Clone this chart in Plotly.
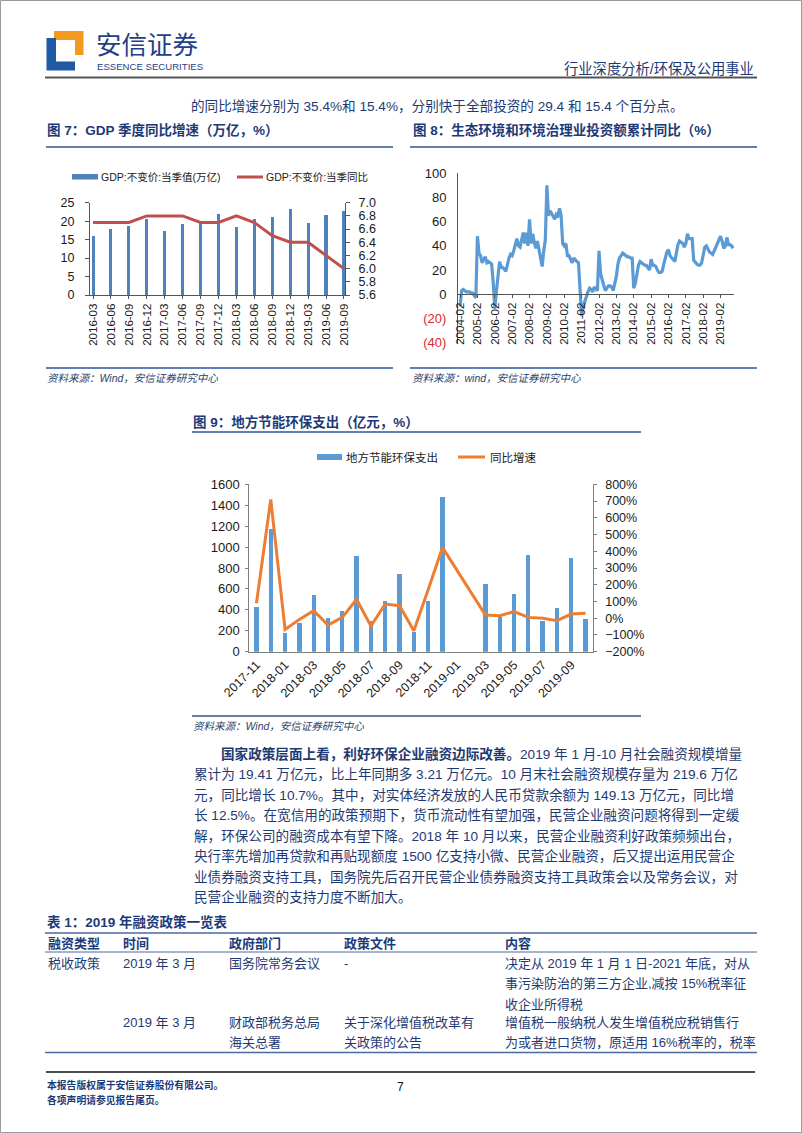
import plotly.graph_objects as go

W, H = 802, 1133
def X(px): return px / W
def Y(py): return 1 - py / H

# ---------------- data ----------------
# Figure 7: GDP quarterly
gdp_quarters = ["2016-03", "2016-06", "2016-09", "2016-12", "2017-03", "2017-06", "2017-09",
                "2017-12", "2018-03", "2018-06", "2018-09", "2018-12", "2019-03", "2019-06", "2019-09"]
gdp_value = [16.0, 17.9, 18.8, 20.5, 17.3, 19.2, 19.4, 21.9, 18.3, 20.5, 21.2, 23.3, 19.4, 21.7, 22.7]
gdp_yoy = [6.7, 6.7, 6.7, 6.8, 6.8, 6.8, 6.7, 6.7, 6.8, 6.7, 6.5, 6.4, 6.4, 6.2, 6.0]

# Figure 8: eco-environment investment, cumulative YoY (%), monthly Feb-Dec
inv_years = list(range(2004, 2020))
inv_2004 = [-10, 3, 4, 3, 2, 2, 2, 1, 1, -1, -3]
inv_2005 = [48, 34, 32, 26, 29, 31, 26, 27, 26, 25, 10]
inv_2006 = [-12, 2, 12, 27, 23, 22, 21, 19, 26, 30, 33]
inv_2007 = [32, 36, 40, 46, 40, 39, 45, 51, 42, 51, 40]
inv_2008 = [62, 42, 50, 43, 38, 44, 37, 33, 23, 36, 45]
inv_2009 = [90, 65, 69, 67, 65, 62, 66, 65, 71, 65, 42]
inv_2010 = [40, 42, 32, 32, 28, 26, 30, 28, 27, 26, 1]
inv_2011 = [-18, -10, -5, -2, 2, 5, 4, 2, 6, 4, 3]
inv_2012 = [36, 17, 12, 8, 3, 5, 7, 7, 6, 3, 8]
inv_2013 = [15, 25, 30, 32, 34, 33, 32, 31, 31, 30, 30]
inv_2014 = [5, 9, 18, 24, 27, 26, 25, 24, 24, 22, 20]
inv_2015 = [29, 24, 24, 23, 20, 18, 18, 19, 25, 30, 35]
inv_2016 = [37, 32, 30, 29, 27, 35, 41, 44, 43, 42, 39]
inv_2017 = [42, 50, 46, 46, 46, 28, 26, 25, 24, 24, 26]
inv_2018 = [32, 39, 40, 37, 35, 34, 33, 36, 39, 42, 44]
inv_2019 = [48, 44, 38, 40, 47, 41, 41, 40, 38]
inv_tick_labels = [f"{y}-02" for y in inv_years]

# Figure 9: local energy-saving & environmental expenditure
exp_months = ["2017-11", "2017-12", "2018-01", "2018-02", "2018-03", "2018-04", "2018-05", "2018-06",
              "2018-07", "2018-08", "2018-09", "2018-10", "2018-11", "2018-12", "2019-01", "2019-02",
              "2019-03", "2019-04", "2019-05", "2019-06", "2019-07", "2019-08", "2019-09", "2019-10"]
exp_value = [430, 1170, 175, 277, 542, 319, 389, 915, 296, 484, 743, 190, 481, 1476, None, None,
             647, 335, 551, 927, 290, 417, 899, 312]
exp_yoy = [89, 710, -67, -7, 45, -41, 5, 113, -47, 85, 75, -75, 170, 423, None, None,
           19, 15, 39, 5, 0, -15, 25, 29]

# ---------------- styles ----------------
FONT = "Liberation Sans, Arial, Noto Sans CJK SC"
NAVY = "#1d3a78"
BODY = "#1f3a72"
TICK = "#1a1a1a"
AX = "#555555"

ann = []
shapes = []

def txt(x, y, s, size=13, color=BODY, bold=False, italic=False, xanchor="left", family=FONT):
    if bold:
        s = f"<b>{s}</b>"
    if italic:
        s = f"<i>{s}</i>"
    ann.append(dict(x=X(x), y=Y(y), xref="paper", yref="paper", text=s, showarrow=False,
                    xanchor=xanchor, yanchor="middle", borderpad=0,
                    font=dict(size=size, color=color, family=family)))

def hline(x0, x1, y, color, width=1):
    shapes.append(dict(type="line", xref="paper", yref="paper", x0=X(x0), x1=X(x1), y0=Y(y), y1=Y(y),
                       line=dict(color=color, width=width)))

def rect(x0, y0, x1, y1, color):
    shapes.append(dict(type="rect", xref="paper", yref="paper", x0=X(x0), x1=X(x1), y0=Y(y1), y1=Y(y0),
                       line=dict(width=0), fillcolor=color))

def poly(pts, color):
    p = "M " + " L ".join(f"{X(a):.5f},{Y(b):.5f}" for a, b in pts) + " Z"
    shapes.append(dict(type="path", xref="paper", yref="paper", path=p, fillcolor=color, line=dict(width=0)))

# page border
shapes.append(dict(type="rect", xref="paper", yref="paper", x0=X(0.5), x1=X(801.5), y0=Y(1132.5), y1=Y(0.5),
                   line=dict(color="#9a9a9a", width=1), fillcolor="rgba(0,0,0,0)"))

# ---------------- header ----------------
poly([(54, 31), (83.5, 31), (83.5, 55), (75, 55), (75, 40), (54, 40)], "#F29A1F")
poly([(46.5, 38), (56, 38), (56, 61.5), (75, 61.5), (75, 70.5), (46.5, 70.5)], "#1F5AA6")
txt(95, 43, "安信证券", size=25.5, color="#1F3F86", family="Noto Sans CJK SC")
txt(96, 67, "ESSENCE SECURITIES", size=9.6, color="#1F3F86", family="Liberation Sans Narrow, Liberation Sans")
txt(755, 69, "行业深度分析/环保及公用事业", size=14.3, color=NAVY, xanchor="right")
hline(45, 757, 77.5, "#555555", 2)

txt(190, 106, "的同比增速分别为 35.4%和 15.4%，分别快于全部投资的 29.4 和 15.4 个百分点。", size=13.6, color=BODY)

# ---------------- figure titles ----------------
txt(46, 129.5, "图 7：GDP 季度同比增速（万亿，%）", size=13.5, color=NAVY, bold=True)
txt(412, 129.5, "图 8：生态环境和环境治理业投资额累计同比（%）", size=13.5, color=NAVY, bold=True)
hline(46, 393, 147, "#2F5597", 1.5)
hline(410, 757, 147, "#2F5597", 1.5)

# legend fig 7
rect(72, 174, 98, 179.5, "#4F81BD")
txt(100, 177, "GDP:不变价:当季值(万亿)", size=10.5, color=TICK)
hline(237, 263, 177, "#C0504D", 3)
txt(265, 177, "GDP:不变价:当季同比", size=10.5, color=TICK)

# sources fig 7/8
hline(46, 393, 368, "#2F5597", 1.5)
hline(410, 757, 368, "#2F5597", 1.5)
txt(46, 378, "资料来源：Wind，安信证券研究中心", size=10.5, color="#2b3f6b", italic=True)
txt(411, 378, "资料来源：wind，安信证券研究中心", size=10.5, color="#2b3f6b", italic=True)

# ---------------- figure 9 title & legend ----------------
txt(192, 421.5, "图 9：地方节能环保支出（亿元，%）", size=13.5, color=NAVY, bold=True)
hline(192, 641, 432, "#2F5597", 1.5)
rect(317, 454, 342, 460, "#5B9BD5")
txt(345, 457, "地方节能环保支出", size=11.5, color=TICK)
hline(458, 485, 457, "#ED7D31", 3)
txt(489, 457, "同比增速", size=11.5, color=TICK)
hline(192, 641, 716, "#2F5597", 1.5)
txt(192, 726, "资料来源：Wind，安信证券研究中心", size=10.5, color="#2b3f6b", italic=True)

# ---------------- body paragraph ----------------
para = [
    "<b>国家政策层面上看，利好环保企业融资边际改善。</b>2019 年 1 月-10 月社会融资规模增量",
    "累计为 19.41 万亿元，比上年同期多 3.21 万亿元。10 月末社会融资规模存量为 219.6 万亿",
    "元，同比增长 10.7%。其中，对实体经济发放的人民币贷款余额为 149.13 万亿元，同比增",
    "长 12.5%。在宽信用的政策预期下，货币流动性有望加强，民营企业融资问题将得到一定缓",
    "解，环保公司的融资成本有望下降。2018 年 10 月以来，民营企业融资利好政策频频出台，",
    "央行率先增加再贷款和再贴现额度 1500 亿支持小微、民营企业融资，后又提出运用民营企",
    "业债券融资支持工具，国务院先后召开民营企业债券融资支持工具政策会以及常务会议，对",
    "民营企业融资的支持力度不断加大。",
]
for i, line in enumerate(para):
    txt(220 if i == 0 else 193, 753.5 + 20.5 * i, line, size=13.6, color=BODY)

# ---------------- table ----------------
txt(46, 922, "表 1：2019 年融资政策一览表", size=13.5, color=NAVY, bold=True)
hline(45, 757, 933, "#4a6aa0", 1.5)
hline(45, 757, 952, "#4a6aa0", 1)
hline(45, 757, 1052.5, "#4a6aa0", 1.5)
cols = [47, 122, 228, 343, 504]
headers = ["融资类型", "时间", "政府部门", "政策文件", "内容"]
for cx, h in zip(cols, headers):
    txt(cx, 943, h, size=13, color=NAVY, bold=True)
row1 = [("税收政策",), ("2019 年 3 月",), ("国务院常务会议",), ("-",),
        ("决定从 2019 年 1 月 1 日-2021 年底，对从", "事污染防治的第三方企业,减按 15%税率征", "收企业所得税")]
row2 = [(), ("2019 年 3 月",), ("财政部税务总局", "海关总署"), ("关于深化增值税改革有", "关政策的公告"),
        ("增值税一般纳税人发生增值税应税销售行", "为或者进口货物，原适用 16%税率的，税率")]
for cx, cell in zip(cols, row1):
    for j, s in enumerate(cell):
        txt(cx, 963.5 + 20.3 * j, s, size=13, color=BODY)
for cx, cell in zip(cols, row2):
    for j, s in enumerate(cell):
        txt(cx, 1022 + 20.3 * j, s, size=13, color=BODY)

# ---------------- footer ----------------
hline(46, 755, 1072, "#111111", 1.5)
txt(46, 1085, "本报告版权属于安信证券股份有限公司。", size=9.8, color=NAVY, bold=True)
txt(46, 1099.5, "各项声明请参见报告尾页。", size=9.8, color=NAVY, bold=True)
txt(400, 1087, "7", size=12, color="#111111", xanchor="center")

# ---------------- traces ----------------
fig = go.Figure()

q_idx = list(range(len(gdp_quarters)))
fig.add_trace(go.Bar(x=q_idx, y=gdp_value, width=0.17, marker=dict(color="#4F81BD", line=dict(width=0)),
                     xaxis="x", yaxis="y", name="GDP:不变价:当季值(万亿)"))
fig.add_trace(go.Scatter(x=q_idx, y=gdp_yoy, mode="lines", line=dict(color="#C0504D", width=3),
                         xaxis="x", yaxis="y2", name="GDP:不变价:当季同比"))

inv_series = (inv_2004 + inv_2005 + inv_2006 + inv_2007 + inv_2008 + inv_2009 + inv_2010 + inv_2011 +
              inv_2012 + inv_2013 + inv_2014 + inv_2015 + inv_2016 + inv_2017 + inv_2018 + inv_2019)
m_idx = list(range(len(inv_series)))
fig.add_trace(go.Scatter(x=m_idx, y=inv_series, mode="lines", line=dict(color="#5B9BD5", width=3.2),
                         xaxis="x2", yaxis="y3", name="投资额累计同比"))

e_idx = list(range(len(exp_months)))
fig.add_trace(go.Bar(x=e_idx, y=exp_value, width=0.3, marker=dict(color="#5B9BD5", line=dict(width=0)),
                     xaxis="x3", yaxis="y4", name="地方节能环保支出"))
fig.add_trace(go.Scatter(x=e_idx, y=exp_yoy, mode="lines", connectgaps=True,
                         line=dict(color="#ED7D31", width=3), xaxis="x3", yaxis="y5", name="同比增速"))

RED = "#E0262B"
inv_yticks = [-40, -20, 0, 20, 40, 60, 80, 100]
inv_ytext = [f'<span style="color:{RED}">(40)</span>', f'<span style="color:{RED}">(20)</span>',
             "0", "20", "40", "60", "80", "100"]

fig.update_layout(
    width=W, height=H, margin=dict(l=0, r=0, t=0, b=0, pad=0, autoexpand=False),
    paper_bgcolor="white", plot_bgcolor="rgba(0,0,0,0)", showlegend=False,
    bargap=0, font=dict(family=FONT), hovermode=False,
    xaxis=dict(domain=[X(90), X(345)], anchor="y", range=[-0.17, 14.06],
               tickvals=q_idx, ticktext=gdp_quarters, tickangle=-90,
               tickfont=dict(family=FONT, size=11.5, color=TICK),
               showline=True, linecolor=AX, linewidth=1, ticks="outside", ticklen=3, tickcolor=AX,
               showgrid=False, zeroline=False, fixedrange=True),
    yaxis=dict(domain=[Y(295), Y(202.7)], anchor="x", range=[0, 25], tickvals=[0, 5, 10, 15, 20, 25],
               tickfont=dict(family=FONT, size=12.5, color=TICK), showline=True, linecolor=AX,
               ticks="outside", ticklen=4, tickcolor=AX, ticklabelstandoff=8,
               showgrid=False, zeroline=False),
    yaxis2=dict(overlaying="y", side="right", anchor="x", range=[5.6, 7.0],
                tickvals=[5.6, 5.8, 6.0, 6.2, 6.4, 6.6, 6.8, 7.0], tickformat=".1f",
                tickfont=dict(family=FONT, size=12.5, color=TICK), showline=True, linecolor=AX,
                ticks="outside", ticklen=4, tickcolor=AX, ticklabelstandoff=6,
                showgrid=False, zeroline=False),
    xaxis2=dict(domain=[X(458), X(734)], anchor="free", position=Y(294), range=[-1.3, 173.5],
                tickvals=[11 * k for k in range(len(inv_years))], ticktext=inv_tick_labels, tickangle=-90,
                tickfont=dict(family=FONT, size=11.5, color=TICK),
                showline=True, linecolor=AX, linewidth=1, ticks="outside", ticklen=3, tickcolor=AX,
                showgrid=False, zeroline=False),
    yaxis3=dict(domain=[Y(342.7), Y(173.3)], anchor="x2", range=[-40, 100],
                tickvals=inv_yticks, ticktext=inv_ytext,
                tickfont=dict(family=FONT, size=13, color=TICK), showline=True, linecolor=AX,
                ticks="", ticklabelstandoff=8, showgrid=False, zeroline=False),
    xaxis3=dict(domain=[X(249.3), X(592.7)], anchor="y4", range=[-0.5, 23.5],
                tickvals=e_idx[::2], ticktext=exp_months[::2], tickangle=-45,
                tickfont=dict(family=FONT, size=12.5, color=TICK),
                showline=True, linecolor="#7f7f7f", ticks="", showgrid=False, zeroline=False),
    yaxis4=dict(domain=[Y(651.7), Y(484.3)], anchor="x3", range=[0, 1600], dtick=200,
                tickfont=dict(family=FONT, size=13, color=TICK), showline=True, linecolor="#7f7f7f",
                ticks="outside", ticklen=3, tickcolor="#7f7f7f", ticklabelstandoff=3,
                showgrid=False, zeroline=False),
    yaxis5=dict(overlaying="y4", side="right", anchor="x3", range=[-200, 800], dtick=100, ticksuffix="%",
                tickfont=dict(family=FONT, size=12.5, color=TICK), showline=True, linecolor="#7f7f7f",
                ticks="outside", ticklen=3, tickcolor="#7f7f7f", ticklabelstandoff=6,
                showgrid=False, zeroline=False),
    annotations=ann, shapes=shapes,
)

fig.write_html("out.html", config={"displayModeBar": False, "staticPlot": True},
               post_script="document.body.style.margin='0px';document.body.style.overflow='hidden';")
